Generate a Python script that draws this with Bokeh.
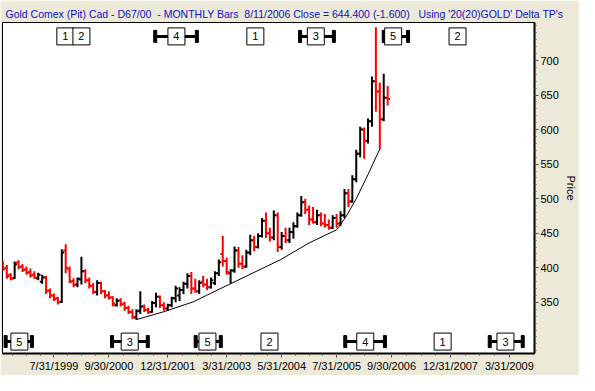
from bokeh.plotting import figure
from bokeh.models import FixedTicker, ColumnDataSource, Range1d
from bokeh.core.properties import value
from bokeh.embed import file_html
from bokeh.resources import INLINE

# month index: 0 = Jun 1998 ... 98 = Aug 2006
months = list(range(99))
opens = [405, 400, 390, 385, 408, 402, 398, 394, 390, 385, 380, 386, 367, 360, 356, 351, 425, 398, 381, 376,
         383, 395, 382, 374, 365, 378, 366, 360, 357, 346, 353, 348, 342, 336, 328, 338, 344, 339, 336, 349,
         358, 346, 341, 346, 356, 360, 368, 377, 388, 370, 366, 380, 376, 372, 378, 392, 420, 410, 392, 396,
         425, 406, 402, 422, 440, 430, 446, 468, 450, 444, 476, 430, 446, 440, 452, 460, 476, 495, 484, 470,
         466, 476, 464, 462, 458, 472, 464, 476, 508, 496, 528, 565, 600, 584, 612, 670, 655, 615, 646]
highs = [410, 404, 392, 409, 411, 405, 402, 399, 395, 393, 390, 388, 370, 363, 358, 427, 434, 402, 385, 386,
         416, 398, 386, 378, 382, 380, 368, 366, 359, 356, 356, 351, 345, 340, 340, 366, 347, 342, 352, 364,
         360, 350, 348, 358, 374, 372, 380, 392, 394, 384, 382, 388, 384, 386, 395, 412, 446, 415, 398, 431,
         430, 418, 426, 448, 446, 450, 472, 480, 458, 483, 480, 452, 458, 458, 466, 480, 504, 500, 490, 488,
         484, 480, 478, 470, 476, 478, 482, 514, 514, 534, 571, 604, 603, 616, 677, 748, 668, 681, 663]
lows = [396, 384, 382, 384, 398, 394, 390, 386, 384, 382, 377, 362, 356, 352, 347, 349, 392, 378, 372, 372,
        376, 378, 370, 362, 360, 362, 356, 354, 344, 344, 344, 338, 333, 326, 325, 333, 336, 333, 335, 343,
        342, 338, 338, 343, 350, 352, 362, 370, 362, 364, 362, 372, 368, 370, 375, 388, 402, 390, 377, 393,
        400, 398, 400, 418, 424, 428, 444, 443, 438, 440, 423, 426, 436, 436, 442, 458, 474, 478, 462, 464,
        462, 460, 458, 455, 456, 458, 460, 472, 488, 494, 524, 560, 558, 580, 604, 626, 572, 612, 635]
closes = [398, 388, 384, 405, 401, 397, 393, 389, 386, 390, 386, 366, 360, 355, 350, 422, 400, 380, 375, 384,
          395, 382, 374, 365, 378, 366, 360, 357, 348, 352, 347, 342, 336, 329, 337, 344, 339, 336, 349, 358,
          346, 341, 346, 356, 370, 368, 377, 388, 370, 366, 378, 376, 372, 382, 392, 408, 410, 394, 396, 425,
          406, 402, 422, 440, 430, 446, 468, 450, 444, 476, 430, 446, 440, 452, 460, 476, 495, 484, 470, 466,
          476, 464, 462, 458, 472, 464, 476, 508, 496, 528, 565, 600, 584, 612, 670, 655, 615, 646, 644.4]

trend_month = [34, 41.3, 48.6, 51.8, 58, 70.8, 78, 85, 87.5, 90, 93, 96]
trend_price = [325, 337, 351, 360, 377, 412, 436, 455, 475, 500, 535, 572]

xtick_months = [-1, 13, 27, 42, 57, 71, 85, 99, 114, 129]
xtick_labels = ["5/31/1998", "7/31/1999", "9/30/2000", "12/31/2001", "3/31/2003",
                "5/31/2004", "7/31/2005", "9/30/2006", "12/31/2007", "3/31/2009"]
ytick_values = [350, 400, 450, 500, 550, 600, 650, 700]

top_mk_month = [15.9, 20.0, 44.2, 64.3, 79.7, 99.4, 115.8]
top_mk_text = ["1", "2", "4", "1", "3", "5", "2"]
top_br_start = [38.8, 75.7, 97.0]
top_br_end = [49.4, 84.3, 103.2]
bot_mk_month = [4.2, 32.3, 52.1, 67.9, 92.3, 112.0, 128.0]
bot_mk_text = ["5", "3", "5", "2", "4", "1", "3"]
bot_br_start = [0.7, 27.8, 49.1, 87.2, 124.0]
bot_br_end = [7.4, 36.9, 55.5, 97.3, 132.4]

NB = "\u00a0"
title_left = "Gold Comex (Pit) Cad - D67/00" + NB + " - MONTHLY Bars" + NB + " 8/11/2006 Close = 644.400 (-1.600)"
title_right = "Using '20(20)GOLD' Delta TP's"

XMIN, XMAX = -0.1, 135.4
YMIN, YMAX = 276, 755
BG = "#ECE9D8"
FONT = "Liberation Sans"

p = figure(width=579, height=375, x_range=Range1d(XMIN, XMAX), y_range=Range1d(YMIN, YMAX),
           output_backend="svg", toolbar_location=None, y_axis_location="right",
           min_border_left=2, min_border_right=36, min_border_top=22, min_border_bottom=22,
           background_fill_color="white", border_fill_color=BG)
p.outline_line_color = "black"
p.grid.visible = False

# title (left and right texts on one line)
p.title.text = title_left + NB * 3 + title_right
p.title.align = "left"
p.title.text_font = FONT
p.title.text_font_size = "10.5px"
p.title.text_font_style = "normal"
p.title.text_color = "#1010C8"
p.title.standoff = 6
p.title.offset = 3

# axes
minor_x = []
for a, b in zip(xtick_months[:-1], xtick_months[1:]):
    minor_x += [a + (b - a) * k / 4 for k in range(1, 4)]
p.xaxis.ticker = FixedTicker(ticks=xtick_months, minor_ticks=minor_x)
p.xaxis.major_label_overrides = {m: t for m, t in zip(xtick_months, xtick_labels)}
p.yaxis.ticker = FixedTicker(ticks=ytick_values, minor_ticks=list(range(280, 760, 10)))
p.yaxis.axis_label = "Price"
for ax in (p.xaxis[0], p.yaxis[0]):
    ax.axis_line_width = 2
    ax.axis_line_color = "black"
    ax.major_tick_line_color = "#505050"
    ax.minor_tick_line_color = "#505050"
    ax.major_tick_out = 4
    ax.major_tick_in = 0
    ax.minor_tick_out = 2
    ax.minor_tick_in = 0
    ax.major_label_text_font = FONT
    ax.major_label_text_font_size = "11px"
    ax.major_label_text_color = "black"
    ax.major_label_standoff = 2
p.yaxis.axis_label_text_font = FONT
p.yaxis.axis_label_text_font_size = "11px"
p.yaxis.axis_label_text_font_style = "normal"
p.yaxis.axis_label_text_color = "black"
p.yaxis.axis_label_standoff = 3

# OHLC bars
TK = 0.6
colors = ["red" if c < o else "black" for o, c in zip(opens, closes)]
src = ColumnDataSource(dict(x=months, o=opens, h=highs, l=lows, c=closes, color=colors,
                            xl=[m - TK for m in months], xr=[m + TK for m in months]))
p.segment(x0="x", y0="l", x1="x", y1="h", line_color="color", line_width=2, source=src)
p.segment(x0="xl", y0="o", x1="x", y1="o", line_color="color", line_width=2, source=src)
p.segment(x0="x", y0="c", x1="xr", y1="c", line_color="color", line_width=2, source=src)

# trend line
p.line(trend_month, trend_price, line_color="black", line_width=1)

# cycle markers
ytop = YMAX - 0.042 * (YMAX - YMIN)
ybot = YMIN + 0.036 * (YMAX - YMIN)
for br_s, br_e, mk_m, mk_t, yy in ((top_br_start, top_br_end, top_mk_month, top_mk_text, ytop),
                                    (bot_br_start, bot_br_end, bot_mk_month, bot_mk_text, ybot)):
    p.segment(x0=br_s, x1=br_e, y0=[yy] * len(br_s), y1=[yy] * len(br_s), line_color="black", line_width=3)
    p.rect(x=br_s + br_e, y=[yy] * (2 * len(br_s)), width=3, height=12, width_units="screen",
           height_units="screen", fill_color="black", line_color="black")
    p.rect(x=mk_m, y=[yy] * len(mk_m), width=17, height=17, width_units="screen", height_units="screen",
           fill_color="white", line_color="black", line_width=1)
    p.text(x=mk_m, y=[yy] * len(mk_m), text=mk_t, text_align="center", text_baseline="middle",
           text_font=value(FONT), text_font_size="11px", text_color="black")

open("out.html", "w").write(file_html(p, INLINE))
